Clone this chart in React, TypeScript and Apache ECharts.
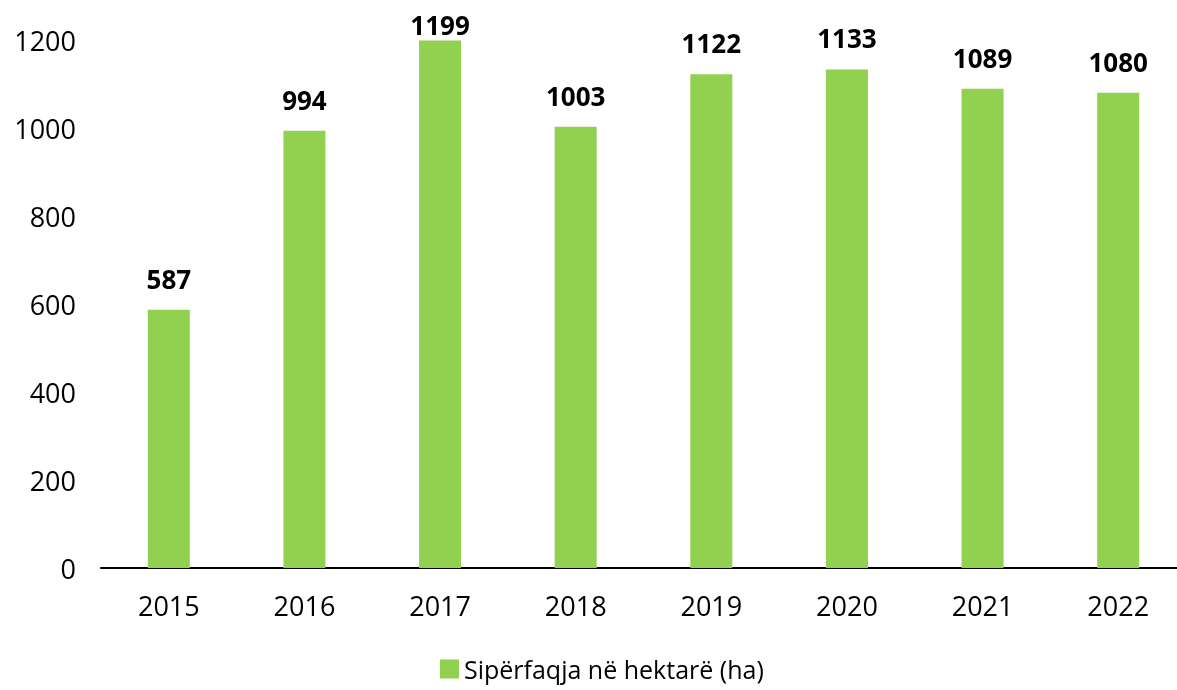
import React, { useEffect, useRef } from "react";
import * as echarts from "echarts";

const years = ["2015", "2016", "2017", "2018", "2019", "2020", "2021", "2022"];
const values = [587, 994, 1199, 1003, 1122, 1133, 1089, 1080];
const seriesName = "Sipërfaqja në hektarë (ha)";

export default function App() {
  const ref = useRef<HTMLDivElement>(null);
  useEffect(() => {
    document.body.style.margin = "0";
    document.body.style.overflow = "hidden";
    const chart = echarts.init(ref.current!, null, { renderer: "svg" });
    chart.setOption({
      animation: false,
      grid: { left: 101, top: 40, width: 1085, height: 528, containLabel: false },
      legend: {
        top: 652,
        left: 440,
        padding: 0,
        itemWidth: 19,
        itemHeight: 19,
        itemGap: 6,
        icon: "rect",
        textStyle: { fontFamily: "Open Sans", fontSize: 25, color: "#000", lineHeight: 34 },
        data: [seriesName],
      },
      xAxis: {
        type: "category",
        data: years,
        axisLine: { lineStyle: { color: "#000", width: 2 } },
        axisTick: { show: false },
        axisLabel: { fontFamily: "Open Sans", fontSize: 27, color: "#000", margin: 24 },
      },
      yAxis: {
        type: "value",
        min: 0,
        max: 1200,
        interval: 200,
        splitLine: { show: false },
        axisLine: { show: false },
        axisTick: { show: false },
        axisLabel: {
          fontFamily: "Open Sans",
          fontSize: 27,
          color: "#000",
          margin: 25,
          formatter: (v: number) => String(v),
        },
      },
      series: [
        {
          name: seriesName,
          type: "bar",
          barWidth: 42,
          itemStyle: { color: "#92D050" },
          data: values.map((v, i) =>
            i === 2 ? { value: v, label: { distance: 2 } } : v
          ),
          label: {
            show: true,
            position: "top",
            distance: 18,
            fontFamily: "Open Sans",
            fontWeight: "bold",
            fontSize: 26,
            color: "#000",
          },
        },
      ],
    });
    return () => chart.dispose();
  }, []);
  return (
    <div style={{ position: "fixed", left: 0, top: 0, width: 1177, height: 690, overflow: "hidden" }}>
      <div ref={ref} style={{ width: 1200, height: 690 }} />
    </div>
  );
}
